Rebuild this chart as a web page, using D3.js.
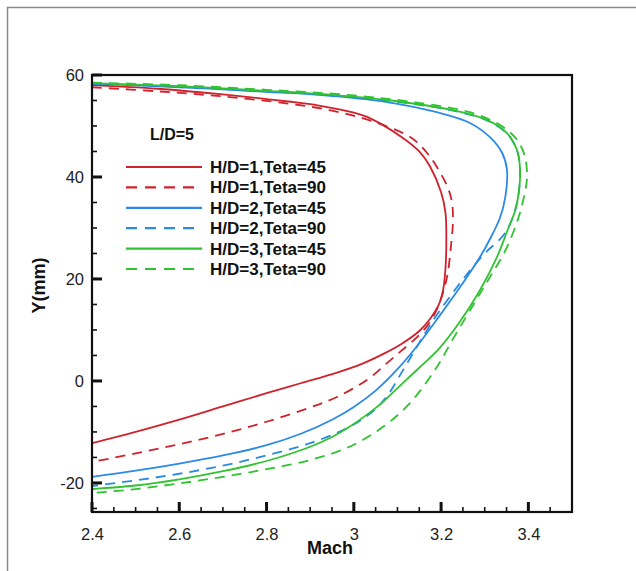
<!DOCTYPE html>
<html>
<head>
<meta charset="utf-8">
<script src="https://cdn.jsdelivr.net/npm/d3@7"></script>
<style>
  body { margin: 0; background: #fff; }
  text { font-family: Arial, "Liberation Sans", sans-serif; }
</style>
</head>
<body>
<div id="chart"></div>
<script>
// data: [Mach, Y(mm)] pairs, top branch first
var hd1Teta45 = [[2.4,58.0],[2.55,57.3],[2.7,56.2],[2.85,54.8],[2.92,54.0],[3.0,52.6],[3.04,51.4],[3.11,47.8],[3.15,45],[3.175,42],[3.2,37],[3.21,33],[3.212,28],[3.21,22],[3.205,18],[3.195,15],[3.175,12.2],[3.15,9.8],[3.11,7.3],[3.07,5.4],[3.02,3.4],[2.96,1.6],[2.88,-0.4],[2.8,-2.4],[2.7,-5.0],[2.6,-7.6],[2.5,-10.0],[2.4,-12.2]];
var hd1Teta90 = [[2.4,57.6],[2.55,56.8],[2.7,55.8],[2.85,54.4],[2.95,53],[3.04,51],[3.13,47.8],[3.165,45],[3.19,42],[3.215,38],[3.225,35],[3.227,31],[3.222,26],[3.215,21],[3.205,17.5],[3.19,14],[3.17,11],[3.145,8.6],[3.11,6],[3.076,3.5],[3.03,0.2],[2.96,-3.2],[2.9,-5.2],[2.8,-8.0],[2.7,-10.4],[2.6,-12.4],[2.5,-14.2],[2.4,-15.9]];
var hd2Teta45 = [[2.4,58.3],[2.6,57.6],[2.8,56.7],[2.92,56.1],[3.076,54.7],[3.19,52.7],[3.266,50.6],[3.312,47.8],[3.34,44.7],[3.351,41.4],[3.347,36],[3.335,32],[3.31,27.5],[3.289,24.3],[3.25,19.2],[3.2,13.2],[3.15,7.4],[3.1,2.3],[3.05,-1.9],[3.0,-5.1],[2.95,-7.6],[2.88,-10.3],[2.8,-12.6],[2.7,-14.6],[2.6,-16.2],[2.5,-17.6],[2.4,-18.8]];
var hd2Teta90 = [[2.4,58.3],[2.6,57.7],[2.8,56.8],[2.92,56.2],[3.076,55],[3.227,53],[3.305,51.1],[3.351,48.5],[3.374,45.2],[3.381,41.4],[3.378,37],[3.368,33],[3.345,28.8],[3.3,25],[3.26,21],[3.22,16.5],[3.185,12.3],[3.155,8.2],[3.13,4.6],[3.105,1],[3.08,-2.5],[3.05,-5.5],[2.99,-9],[2.9,-12.2],[2.8,-14.6],[2.7,-16.6],[2.6,-18.2],[2.5,-19.5],[2.4,-20.6]];
var hd3Teta45 = [[2.4,58.4],[2.6,57.8],[2.8,56.9],[2.92,56.3],[3.076,55.1],[3.227,53.1],[3.305,51.2],[3.351,48.6],[3.374,45.3],[3.381,41.4],[3.378,37],[3.37,33.5],[3.352,29.5],[3.328,24.3],[3.289,17.8],[3.243,11.6],[3.197,6.5],[3.145,2.2],[3.105,-1.0],[3.067,-4.1],[3.03,-6.6],[2.99,-9],[2.95,-11],[2.9,-12.9],[2.8,-15.7],[2.7,-17.7],[2.6,-19.3],[2.5,-20.5],[2.4,-21.2]];
var hd3Teta90 = [[2.4,58.5],[2.6,58],[2.8,57.1],[3.0,56],[3.152,54.5],[3.266,52.7],[3.335,50.2],[3.374,47.3],[3.392,44],[3.397,40],[3.392,37],[3.378,32.2],[3.348,25.7],[3.312,20.4],[3.273,14.8],[3.227,8.2],[3.19,2.7],[3.129,-4.3],[3.067,-9],[2.99,-12.9],[2.9,-15.5],[2.8,-17.3],[2.7,-18.8],[2.6,-20.1],[2.5,-21.2],[2.4,-22]];

var seriesNames = ["H/D=1,Teta=45", "H/D=1,Teta=90", "H/D=2,Teta=45", "H/D=2,Teta=90", "H/D=3,Teta=45", "H/D=3,Teta=90"];
var seriesData = [hd1Teta45, hd1Teta90, hd2Teta45, hd2Teta90, hd3Teta45, hd3Teta90];
var seriesColors = ["#d0222c", "#d0222c", "#2a8ae6", "#2a8ae6", "#2fc42f", "#2fc42f"];
var seriesDashed = [false, true, false, true, false, true];

var xTicks = [2.4, 2.6, 2.8, 3, 3.2, 3.4];
var xMinorTicks = [2.45, 2.5, 2.55, 2.65, 2.7, 2.75, 2.85, 2.9, 2.95, 3.05, 3.1, 3.15, 3.25, 3.3, 3.35, 3.45];
var yTicks = [-20, 0, 20, 40, 60];
var yMinorTicks = [-25, -15, -10, -5, 5, 10, 15, 25, 30, 35, 45, 50, 55];
var xDomain = [2.4, 3.5];
var yDomain = [-25.7, 60];

var svgWidth = 636;
var svgHeight = 571;

var margin = {
    top: 75,
    right: 64,
    bottom: 59,
    left: 92
};

var width = svgWidth - margin.left - margin.right;
var height = svgHeight - margin.top - margin.bottom;

var svg = d3.select("#chart")
    .append("svg")
    .attr("width", svgWidth)
    .attr("height", svgHeight);

// grey frame like the screenshot edge
svg.append("path")
    .attr("d", "M7.5," + svgHeight + "V7.5H" + svgWidth)
    .attr("fill", "none")
    .attr("stroke", "#8a8a8a")
    .attr("stroke-width", 1.5);

var chartGroup = svg.append("g")
    .attr("transform", `translate(${margin.left}, ${margin.top})`);

var xScale = d3.scaleLinear().domain(xDomain).range([0, width]);
var yScale = d3.scaleLinear().domain(yDomain).range([height, 0]);

chartGroup.append("clipPath")
    .attr("id", "plotClip")
    .append("rect")
    .attr("width", width)
    .attr("height", height);

// tick labels through d3 axes (hyphen minus like the original)
var xAxis = d3.axisBottom(xScale)
    .tickValues(xTicks)
    .tickSize(0)
    .tickPadding(16)
    .tickFormat(d => String(d));
var yAxis = d3.axisLeft(yScale)
    .tickValues(yTicks)
    .tickSize(0)
    .tickPadding(8)
    .tickFormat(d => String(d));

chartGroup.append("g")
    .attr("class", "x-axis")
    .attr("transform", `translate(0, ${height})`)
    .call(xAxis);
chartGroup.append("g")
    .attr("class", "y-axis")
    .call(yAxis);

chartGroup.selectAll(".domain").remove();
chartGroup.selectAll(".tick text")
    .attr("fill", "#222")
    .attr("font-size", "16.5px");

// curves
var line = d3.line()
    .x(d => xScale(d[0]))
    .y(d => yScale(d[1]))
    .curve(d3.curveCatmullRom.alpha(0.5));

var curves = chartGroup.append("g").attr("clip-path", "url(#plotClip)");
seriesData.forEach(function(data, i) {
    curves.append("path")
        .datum(data)
        .attr("d", line)
        .attr("fill", "none")
        .attr("stroke", seriesColors[i])
        .attr("stroke-width", 1.8)
        .attr("stroke-dasharray", seriesDashed[i] ? "10,7" : null);
});

// plot box
chartGroup.append("rect")
    .attr("width", width)
    .attr("height", height)
    .attr("fill", "none")
    .attr("stroke", "#111")
    .attr("stroke-width", 2.2);

// inward tick marks
chartGroup.selectAll("line.xmajor")
    .data(xTicks)
    .enter()
    .append("line")
    .attr("class", "xmajor")
    .attr("x1", d => xScale(d))
    .attr("x2", d => xScale(d))
    .attr("y1", height)
    .attr("y2", height - 10)
    .attr("stroke", "#111")
    .attr("stroke-width", 3);

chartGroup.selectAll("line.xminor")
    .data(xMinorTicks)
    .enter()
    .append("line")
    .attr("class", "xminor")
    .attr("x1", d => xScale(d))
    .attr("x2", d => xScale(d))
    .attr("y1", height)
    .attr("y2", height - 5)
    .attr("stroke", "#111")
    .attr("stroke-width", 1.6);

chartGroup.selectAll("line.ymajor")
    .data(yTicks)
    .enter()
    .append("line")
    .attr("class", "ymajor")
    .attr("x1", 0)
    .attr("x2", 10)
    .attr("y1", d => yScale(d))
    .attr("y2", d => yScale(d))
    .attr("stroke", "#111")
    .attr("stroke-width", 3);

chartGroup.selectAll("line.yminor")
    .data(yMinorTicks)
    .enter()
    .append("line")
    .attr("class", "yminor")
    .attr("x1", 0)
    .attr("x2", 5)
    .attr("y1", d => yScale(d))
    .attr("y2", d => yScale(d))
    .attr("stroke", "#111")
    .attr("stroke-width", 1.6);

// legend
chartGroup.append("text")
    .attr("x", 58)
    .attr("y", 65)
    .attr("font-size", "16px")
    .attr("font-weight", "bold")
    .attr("fill", "#111")
    .text("L/D=5");

var legend = chartGroup.append("g")
    .attr("transform", "translate(34, 92)");

seriesNames.forEach(function(name, i) {
    var row = legend.append("g")
        .attr("transform", `translate(0, ${i * 20.4})`);
    row.append("line")
        .attr("x1", 0)
        .attr("x2", 76)
        .attr("stroke", seriesColors[i])
        .attr("stroke-width", 2.2)
        .attr("stroke-dasharray", seriesDashed[i] ? "11,8" : null);
    row.append("text")
        .attr("x", 84)
        .attr("y", 6)
        .attr("font-size", "17px")
        .attr("font-weight", "bold")
        .attr("fill", "#111")
        .text(name);
});

// axis titles
chartGroup.append("text")
    .attr("x", width / 2 - 2)
    .attr("y", height + 42)
    .attr("text-anchor", "middle")
    .attr("font-size", "18px")
    .attr("font-weight", "bold")
    .attr("fill", "#111")
    .text("Mach");

chartGroup.append("text")
    .attr("transform", "rotate(-90)")
    .attr("x", 0 - (height / 2) + 8)
    .attr("y", 0 - margin.left + 45)
    .attr("text-anchor", "middle")
    .attr("font-size", "18px")
    .attr("font-weight", "bold")
    .attr("fill", "#111")
    .text("Y(mm)");
</script>
</body>
</html>
